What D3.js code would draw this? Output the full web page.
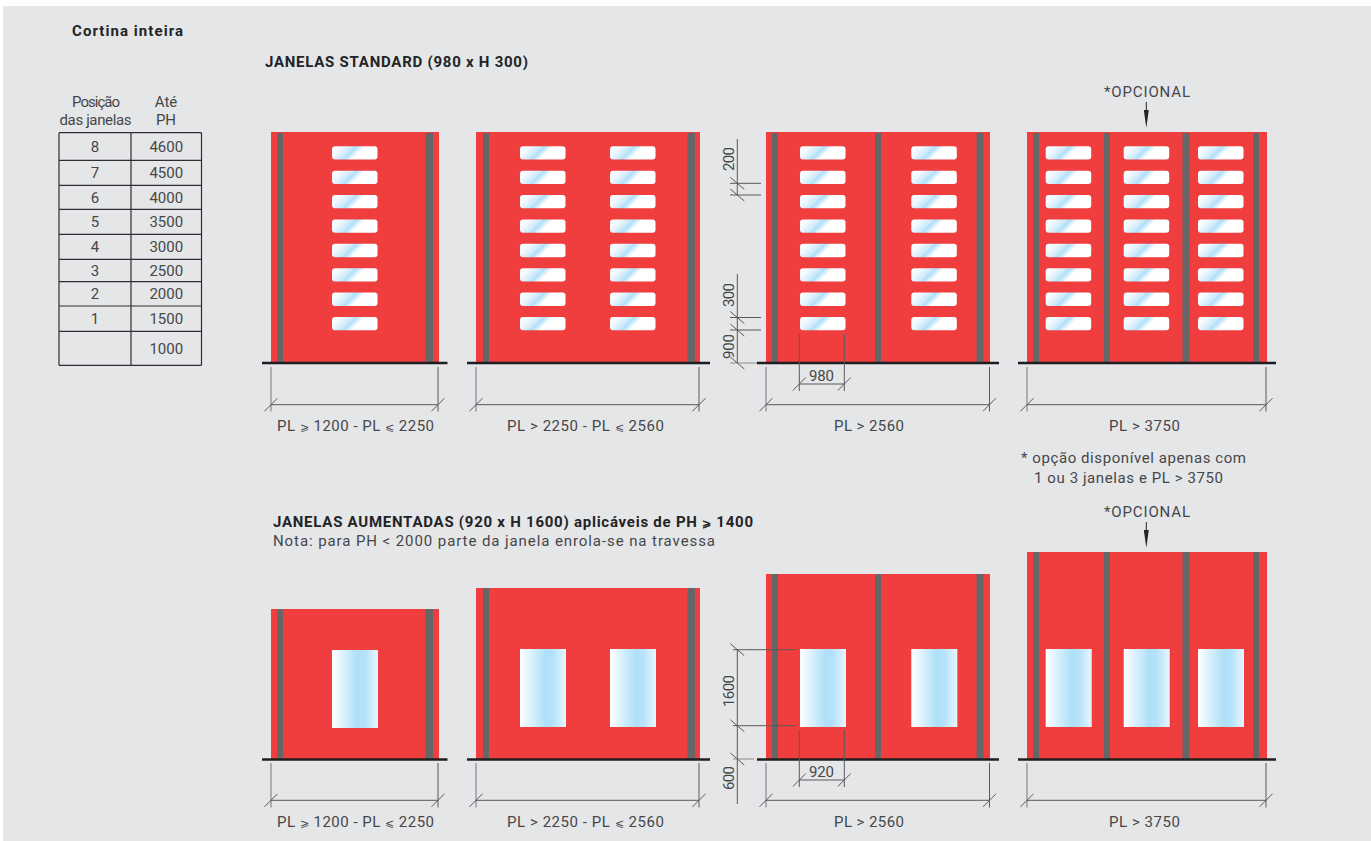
<!DOCTYPE html>
<html>
<head>
<meta charset="utf-8">
<title>Cortina inteira</title>
<script src="https://cdn.jsdelivr.net/npm/d3@7"></script>
<style>
    html, body { margin: 0; padding: 0; background: #fff; }
    svg { display: block; }
    text { font-family: Roboto, sans-serif; fill: #464648; font-size: 15px; }
    .bold { font-weight: 700; fill: #232325; }
</style>
</head>
<body>
<svg id="chart" width="1371" height="841"></svg>
<script>
// table
var tablePositions = ["8", "7", "6", "5", "4", "3", "2", "1", ""];
var tablePH = [4600, 4500, 4000, 3500, 3000, 2500, 2000, 1500, 1000];

// doors, left to right
var doorLabels = ["PL \u2A7E 1200 - PL \u2A7D 2250", "PL > 2250 - PL \u2A7D 2560", "PL > 2560", "PL > 3750"];
var windowColumns = [1, 2, 2, 3];
var windowRows = [1, 2, 3, 4, 5, 6, 7, 8];
var standardDims = [200, 300, 900, 980];
var enlargedDims = [1600, 600, 920];

// layout
var rowEdges = [132.7, 160.3, 185.3, 209.3, 234.3, 259.3, 281.7, 306, 331.3, 365.3];
var doorEdges = [[271, 439], [476, 700], [766, 990], [1027, 1267]];
var groundEdges = [[262, 447.5], [467, 710], [757, 999], [1018, 1276]];
var dimEdges = [[271, 438], [476, 699], [766, 989.5], [1027, 1266]];
var labelCentres = [355.5, 585.5, 869, 1144.5];
var labelWidths = [157, 157, 70, 71];
var postEdges = [
    [277, 425.5], [483, 687.5], [772, 875, 976.5], [1033, 1104, 1182.5, 1253]
];
var postWidths = [
    [6, 7.5], [6, 7.5], [6, 6, 7], [6, 6, 7, 6]
];
var windowLefts = [[332], [520, 610], [800, 911.3], [1045.7, 1123.7, 1198]];
var enlargedTops = [609, 588, 574, 552];

var svg = d3.select("#chart");
var defs = svg.append("defs");

// gradient vector chosen so the streak runs at 45 degrees on a wide window
var diag = defs.append("linearGradient").attr("id", "glassDiag")
    .attr("x1", 0).attr("y1", 0).attr("x2", 0.96).attr("y2", 0.283);
[[0, "#ffffff"], [0.22, "#f2f9fd"], [0.44, "#cdeafa"], [0.53, "#aee0f8"], [0.6, "#d2edfb"], [0.7, "#ffffff"], [1, "#ffffff"]].forEach(function (s) {
    diag.append("stop").attr("offset", s[0]).attr("stop-color", s[1]);
});
var vert = defs.append("linearGradient").attr("id", "glassTall");
[[0, "#ffffff"], [0.55, "#aee0f8"], [0.72, "#b4e2f9"], [1, "#e8f6fd"]].forEach(function (s) {
    vert.append("stop").attr("offset", s[0]).attr("stop-color", s[1]);
});

svg.append("rect")
    .attr("x", 3).attr("y", 6)
    .attr("width", 1368).attr("height", 835)
    .attr("fill", "#e5e6e8");

function label(txt, x, y, opts) {
    opts = opts || {};
    var t = svg.append("text")
        .attr("x", x).attr("y", y)
        .attr("text-anchor", opts.anchor || "start");
    // the two comparison signs are small in the original
    String(txt).split(/([\u2A7D\u2A7E])/).forEach(function (part) {
        var s = t.append("tspan").text(part);
        if (part === "\u2A7D" || part === "\u2A7E") s.style("font-size", "11px");
    });
    if (opts.bold) t.attr("class", "bold");
    if (opts.rotate) t.attr("transform", "rotate(-90 " + x + " " + y + ")");
    if (opts.len) t.attr("textLength", opts.len).attr("lengthAdjust", "spacing");
    return t;
}

function line(x1, y1, x2, y2, colour, width) {
    svg.append("line")
        .attr("x1", x1).attr("y1", y1).attr("x2", x2).attr("y2", y2)
        .attr("stroke", colour || "#59595b")
        .attr("stroke-width", width || 1);
}

// oblique tick of a dimension line
function slashUp(x, y) { line(x - 6.5, y + 6.5, x + 6.5, y - 6.5); }
function slashDown(x, y) { line(x - 7, y - 6, x + 7, y + 6); }

// top and bottom panels share the same drawing
function drawDoors(tops, ground, dimTop, dimBottom, dimY, labelY, drawWindows) {
    doorLabels.forEach(function (name, i) {
        var x0 = doorEdges[i][0], x1 = doorEdges[i][1];
        svg.append("rect")
            .attr("x", x0).attr("y", tops[i])
            .attr("width", x1 - x0).attr("height", ground - tops[i])
            .attr("fill", "#f03d3e");

        svg.selectAll(null)
            .data(postEdges[i])
            .enter()
            .append("rect")
            .attr("x", function (d) { return d; })
            .attr("y", tops[i] + (tops[i] < 140 ? 1 : 0))
            .attr("width", function (d, j) { return postWidths[i][j]; })
            .attr("height", ground - tops[i])
            .attr("fill", "#666668");

        drawWindows(i);

        line(groundEdges[i][0], ground, groundEdges[i][1], ground, "#1e1e20", 2.6);

        var a = dimEdges[i][0], b = dimEdges[i][1];
        line(a, dimTop, a, dimBottom, "#77777a");
        line(b, dimTop, b, dimBottom);
        line(a, dimY, b, dimY);
        slashUp(a, dimY);
        slashUp(b, dimY);

        label(name, labelCentres[i], labelY, { anchor: "middle", len: labelWidths[i] });
    });
}

// table
var tableLeft = 59, tableMid = 131, tableRight = 201.5;
rowEdges.forEach(function (y) { line(tableLeft, y, tableRight, y, "#2e2e30", 1.2); });
[tableLeft, tableMid, tableRight].forEach(function (x) {
    line(x, rowEdges[0], x, rowEdges[rowEdges.length - 1], "#2e2e30", 1.2);
});
tablePH.forEach(function (ph, i) {
    var cy = (rowEdges[i] + rowEdges[i + 1]) / 2 + 5.5;
    label(tablePositions[i], (tableLeft + tableMid) / 2, cy, { anchor: "middle" });
    label(ph, (tableMid + tableRight) / 2, cy, { anchor: "middle" });
});
label("Posição", 96, 107, { anchor: "middle", len: 48 });
label("das janelas", 95.5, 125, { anchor: "middle", len: 72 });
label("Até", 166, 107, { anchor: "middle" });
label("PH", 166, 125, { anchor: "middle" });

label("Cortina inteira", 72, 36, { bold: true, len: 111 });
label("JANELAS STANDARD (980 x H 300)", 265, 67, { bold: true, len: 263 });
label("JANELAS AUMENTADAS (920 x H 1600) aplicáveis de PH \u2A7E 1400", 273, 527, { bold: true, len: 480 });
label("Nota: para PH < 2000 parte da janela enrola-se na travessa", 273, 546, { len: 442 });
label("* opção disponível apenas com", 1021, 463, { len: 225 });
label("1 ou 3 janelas e PL > 3750", 1034, 483, { len: 189 });

// standard windows
var rowY = d3.scaleLinear().domain([1, 8]).range([317, 146.3]);
drawDoors([132, 132, 132, 132], 363, 367, 411.5, 404.7, 430.5, function (i) {
    d3.range(windowColumns[i]).forEach(function (c) {
        svg.selectAll(null)
            .data(windowRows)
            .enter()
            .append("rect")
            .attr("x", windowLefts[i][c])
            .attr("y", function (d) { return rowY(d); })
            .attr("width", 45.5).attr("height", 13.3)
            .attr("rx", 3)
            .attr("fill", "url(#glassDiag)");
    });
});

// enlarged windows
drawDoors(enlargedTops, 759.5, 763, 807.5, 800.3, 826.5, function (i) {
    windowLefts[i].forEach(function (x) {
        svg.append("rect")
            .attr("x", x).attr("y", i === 0 ? 650 : 649)
            .attr("width", 46).attr("height", 78)
            .attr("fill", "url(#glassTall)");
    });
});

// dimensions on the third door, standard
var dimX = 737.3;
line(dimX, 139, dimX, 195);
[183.3, 195].forEach(function (y) { line(730, y, 761, y); slashDown(dimX, y); });
line(dimX, 274, dimX, 363);
[317.5, 330].forEach(function (y) { line(730, y, 761, y); slashDown(dimX, y); });
line(730, 363, 757, 363, "#8b8b8d");
slashDown(dimX, 363);
label(standardDims[0], 734, 171, { rotate: true, len: 24 });
label(standardDims[1], 734, 307, { rotate: true, len: 24 });
label(standardDims[2], 734, 359, { rotate: true, len: 25 });
[799.3, 844.3].forEach(function (x) { line(x, 334, x, 391); slashUp(x, 384); });
line(799.3, 384, 844.3, 384);
label(standardDims[3], 809, 380.5, { len: 25 });

// dimensions on the third door, enlarged
line(dimX, 649.7, dimX, 804);
[649.7, 725.7].forEach(function (y) { line(733, y, 796, y); slashDown(dimX, y); });
line(733, 759, 754, 759, "#8b8b8d");
slashDown(dimX, 759);
label(enlargedDims[0], 734, 707, { rotate: true, len: 32 });
label(enlargedDims[1], 734, 790, { rotate: true, len: 24 });
[799.3, 844.3].forEach(function (x) { line(x, 730, x, 787); slashUp(x, 780); });
line(799.3, 780, 844.3, 780);
label(enlargedDims[2], 809, 776.5, { len: 25 });

// optional door markers
[[97, 102, 127.7], [517, 522, 547.7]].forEach(function (m) {
    label("*OPCIONAL", 1147, m[0], { anchor: "middle", len: 86 });
    line(1146.3, m[1], 1146.3, m[1] + 10, "#232325", 1);
    svg.append("path")
        .attr("d", d3.line()([[1143.8, m[1] + 8], [1148.8, m[1] + 8], [1146.3, m[2]]]) + "Z")
        .attr("fill", "#232325");
});
</script>
</body>
</html>
